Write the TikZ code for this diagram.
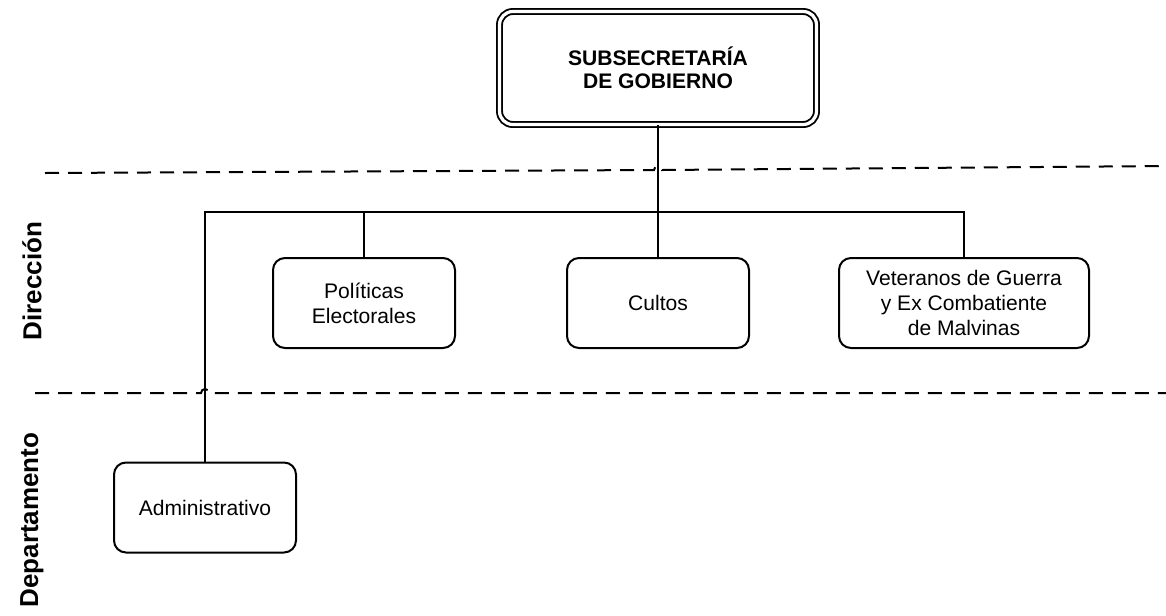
\documentclass[tikz,border=0pt]{standalone}
\usepackage{fontspec}
\setmainfont{Liberation Sans}
\usetikzlibrary{positioning}

\begin{document}
\begin{tikzpicture}[x=0.75pt,y=-0.75pt,
    unidad/.style={draw, line width=1.5pt, rounded corners=9pt, align=center,
      minimum width=136.5pt, minimum height=67.5pt, inner sep=2pt,
      font=\fontsize{15.8}{18.7}\selectfont},
    jefe/.style={draw, double, line width=1.4pt, double distance=2.4pt,
      rounded corners=10pt, align=center, minimum width=237.75pt,
      minimum height=84.75pt, font=\fontsize{15.8}{17.3}\selectfont\bfseries},
    nivel/.style={rotate=90, font=\fontsize{19.5}{23}\selectfont\bfseries},
    enlace/.style={line width=1.5pt},
    limite/.style={line width=1.5pt, dash pattern=on 10.5pt off 6.75pt}]
    \useasboundingbox (0,0) rectangle (1166,615);

    \node[jefe] (sub) at (658,68) {SUBSECRETARÍA\\DE GOBIERNO};
    \node[unidad] (pol) at (364,303) {Políticas\\Electorales};
    \node[unidad] (cul) at (658,303) {Cultos};
    \node[unidad, minimum width=187.5pt] (vet) at (964,303) {Veteranos de Guerra\\y Ex Combatiente\\de Malvinas};
    \node[unidad] (adm) at (205,507.5) {Administrativo};

    \node[nivel] (dir) at (32,281) {Dirección};
    \node[nivel] (dep) at (32,520) {Departamento};

    \coordinate (busL) at (205,212);
    \coordinate (busR) at (964,212);
    \draw[enlace] (adm.north) -- (busL) -- (busR) -- (vet.north);
    \draw[enlace] (pol.north) -- (pol.north |- busL);
    \draw[enlace] (sub.south) -- (cul.north);

    \draw[limite] (45,173) -- (654,170) arc[start angle=180, end angle=360, radius=4] -- (1166,166);
    \draw[limite] (35,393) -- (201,393) arc[start angle=180, end angle=360, radius=4] -- (1166,393);
\end{tikzpicture}
\end{document}
